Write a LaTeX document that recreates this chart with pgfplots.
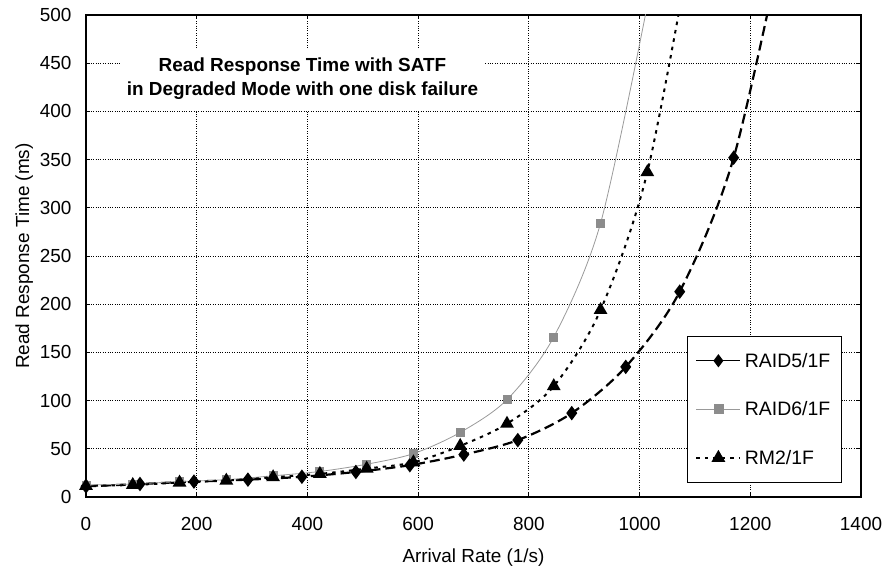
\documentclass[border=0pt]{standalone}
\usepackage{pgfplots}
\pgfplotsset{compat=1.18}
\usepackage{fontspec}
\setmainfont{Liberation Sans}
\definecolor{rsix}{gray}{0.6}
\definecolor{rsixmark}{gray}{0.55}
\begin{document}
\begin{tikzpicture}
\begin{axis}[name=ax, scale only axis, width=775bp, height=482bp,
  xmin=0, xmax=1400, ymin=0, ymax=500,
  xtick={0,200,...,1400}, ytick={0,50,...,500},
  grid=major, grid style={black, dotted, line width=0.9pt},
  axis line style={line width=1.4pt},
  tick style={black, line width=0.8pt}, tick align=inside, major tick length=4bp,
  /pgf/number format/assume math mode=true,
  /pgf/number format/set thousands separator={},
  ticklabel style={font=\fontsize{19}{22}\selectfont},
  xticklabel style={yshift=-17bp},
  yticklabel style={xshift=-11bp},
  label style={font=\fontsize{19}{22}\selectfont},
  xlabel={Arrival Rate (1/s)}, ylabel={Read Response Time (ms)},
  xlabel style={yshift=-11bp},
  legend style={at={(0.7755,0.029)}, anchor=south west, draw=black, line width=0.8pt,
    font=\fontsize{19.5}{22}\selectfont, row sep=29bp, inner ysep=15bp, inner xsep=8bp,
    nodes={inner xsep=3.5bp}},
  legend cell align=left,
  legend image code/.code={\draw[mark repeat=2,mark phase=2,#1] plot coordinates {(0bp,0bp) (22bp,0bp) (44bp,0bp)};},
]
% RAID5/1F
\addplot[forget plot, black, line width=2.2pt, dash pattern=on 10bp off 5bp, smooth, tension=0.5,
  mark=diamond*, mark size=5.5bp, mark options={solid}] coordinates {
  (0,11) (97.5,13.5) (195,16) (292.5,18) (390,21) (487.5,26) (585,33) (682.5,44)
  (780,59) (877.5,87) (975,135) (1072.5,213) (1170,352) (1267.5,600)};
% RAID6/1F
\addplot[forget plot, rsix, line width=0.8pt, smooth, tension=0.5,
  mark=square*, mark size=4bp, mark options={solid, fill=rsixmark, draw=rsixmark}] coordinates {
  (0,12.5) (84.5,13.5) (169,16) (253.5,18) (338,22) (422.5,26.5) (507,34) (591.5,45)
  (676,67) (760.5,101) (845,166) (929.5,284) (1014,510)};
% RM2/1F
\addplot[forget plot, black, line width=2pt, dash pattern=on 3.5bp off 5bp, smooth, tension=0.5,
  mark=triangle*, mark size=6bp, mark options={solid}] coordinates {
  (0,11.5) (84.5,12.5) (169,15) (253.5,17) (338,20.5) (422.5,24) (507,29.5) (591.5,36)
  (676,53) (760.5,76) (845,115) (929.5,194) (1014,337) (1098.5,590)};
\addlegendimage{black, line width=1.4pt, mark=diamond*, mark size=5.5bp}
\addlegendentry{RAID5/1F}
\addlegendimage{rsix, line width=0.8pt, mark=square*, mark size=4.5bp, mark options={fill=rsixmark, draw=rsixmark}}
\addlegendentry{RAID6/1F}
\addlegendimage{black, line width=2pt, dash pattern=on 3.5bp off 5bp, mark=triangle*, mark size=6bp, mark options={solid}}
\addlegendentry{RM2/1F}
\node[fill=white, align=center, inner sep=0pt, minimum width=365bp, minimum height=62bp,
  font=\bfseries\fontsize{19}{24}\selectfont] at (axis cs:391,433.6)
  {Read Response Time with SATF\\in Degraded Mode with one disk failure};
\end{axis}
\pgfresetboundingbox
\path ([shift={(-86bp,-76bp)}]ax.south west) rectangle ([shift={(27bp,15bp)}]ax.north east);
\end{tikzpicture}
\end{document}
